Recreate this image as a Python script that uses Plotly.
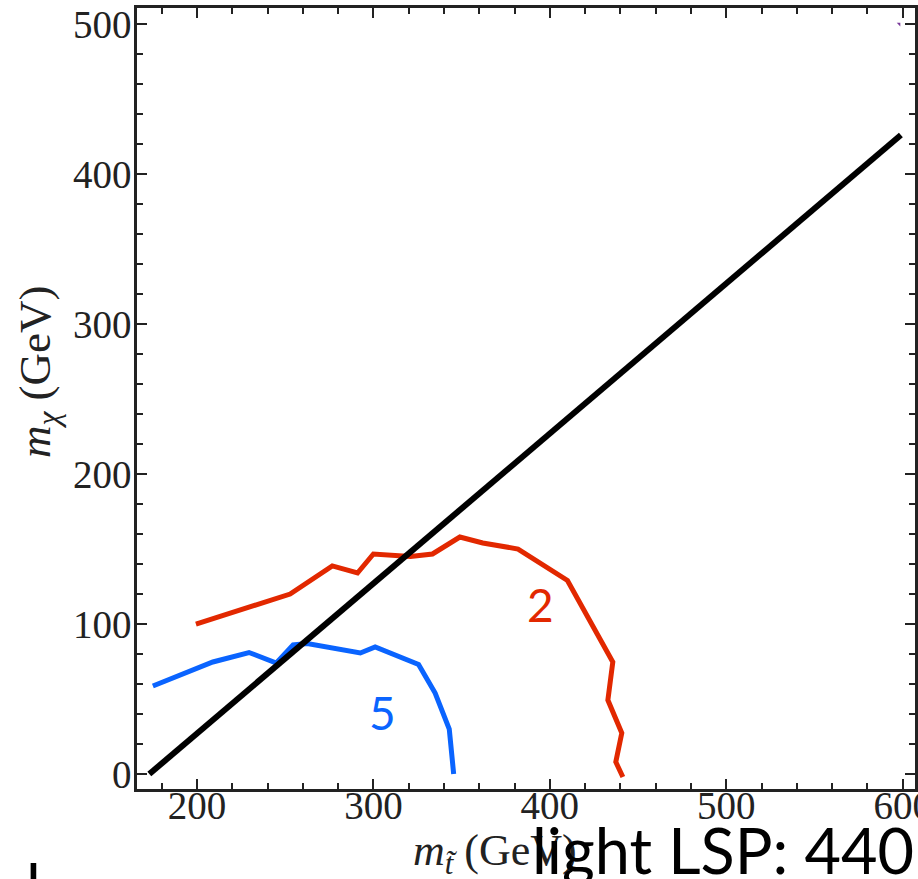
import plotly.graph_objects as go

# Exclusion contours in the stop / neutralino mass plane
diag_mstop = [173, 599]
diag_mchi = [0, 426]

red_mstop = [199.4, 252.8, 276.7, 291, 300, 321, 333.5, 349, 362, 382, 410, 435.7, 432.9, 440.8, 437.4, 441.4]
red_mchi = [100, 120, 138.7, 134, 146.7, 145, 146.7, 158, 154, 150, 129, 74.7, 49.3, 27.3, 8, -2]

blue_mstop = [175, 209, 229.5, 245, 254.5, 262.5, 292.6, 301, 325.6, 335, 343, 345.5]
blue_mchi = [58.7, 74.7, 81, 74, 86, 87, 80.7, 84.7, 73, 54, 30, 0]

x_ticks = [200, 300, 400, 500, 600]
y_ticks = [0, 100, 200, 300, 400, 500]

RED = "#e22800"
BLUE = "#0a64ff"
SERIF = "Liberation Serif"
SANS = "Lato"

fig = go.Figure()
fig.add_trace(go.Scatter(x=blue_mstop, y=blue_mchi, mode="lines",
                         line=dict(color=BLUE, width=5), showlegend=False))
fig.add_trace(go.Scatter(x=red_mstop, y=red_mchi, mode="lines",
                         line=dict(color=RED, width=5), showlegend=False))
fig.add_trace(go.Scatter(x=diag_mstop, y=diag_mchi, mode="lines",
                         line=dict(color="black", width=6), showlegend=False))
fig.add_trace(go.Scatter(x=[598], y=[500], mode="markers",
                         marker=dict(symbol="triangle-ne", size=4, color="#7a3a9a"),
                         showlegend=False))

axis_common = dict(
    showline=True, linecolor="#222", linewidth=2.5, mirror="ticks",
    ticks="inside", ticklen=10, tickwidth=2, tickcolor="#222",
    showgrid=False, zeroline=False, ticklabeloverflow="allow", automargin=False,
    tickfont=dict(family=SERIF, size=39, color="#222"),
)

fig.update_xaxes(range=[166, 607], tickvals=x_ticks, ticklabelstandoff=-20,
                 minor=dict(ticks="inside", dtick=20, tick0=0, ticklen=6,
                            tickwidth=2, tickcolor="#222"),
                 **axis_common)
fig.update_yaxes(range=[-10, 510.7], tickvals=y_ticks, ticklabelstandoff=-5,
                 minor=dict(ticks="inside", dtick=20, tick0=0, ticklen=6,
                            tickwidth=2, tickcolor="#222"),
                 **axis_common)

annotations = [
    dict(x=394.6, y=113, xref="x", yref="y", text="2", showarrow=False,
         font=dict(family=SANS, size=46, color=RED)),
    dict(x=304.9, y=41.3, xref="x", yref="y", text="5", showarrow=False,
         font=dict(family=SANS, size=46, color=BLUE)),
    dict(x=(495 - 137) / 778, y=(789 - 853) / 781, xref="paper", yref="paper",
         text="<i>m</i><sub><i>t̃</i></sub> (GeV)", showarrow=False,
         xanchor="center", yanchor="middle",
         font=dict(family=SERIF, size=44, color="#222")),
    dict(x=(38 - 137) / 778, y=(789 - 372) / 781, xref="paper", yref="paper",
         text="<i>m</i><sub><i>χ</i></sub> (GeV)", showarrow=False, textangle=-90,
         xanchor="center", yanchor="middle",
         font=dict(family=SERIF, size=45, color="#222")),
    dict(x=(530 - 137) / 778, y=(789 - 849) / 781, xref="paper", yref="paper",
         text="light LSP: 440", showarrow=False, xanchor="left", yanchor="middle",
         font=dict(family=SANS, size=63, color="black")),
    dict(x=(24 - 137) / 778, y=(789 - 885) / 781, xref="paper", yref="paper",
         text="l", showarrow=False, xanchor="left", yanchor="middle",
         font=dict(family=SANS, size=63, color="black")),
]

fig.update_layout(
    width=918, height=879,
    margin=dict(l=137, r=3, t=8, b=90),
    paper_bgcolor="white", plot_bgcolor="white",
    annotations=annotations,
)

fig.write_html("out.html")
